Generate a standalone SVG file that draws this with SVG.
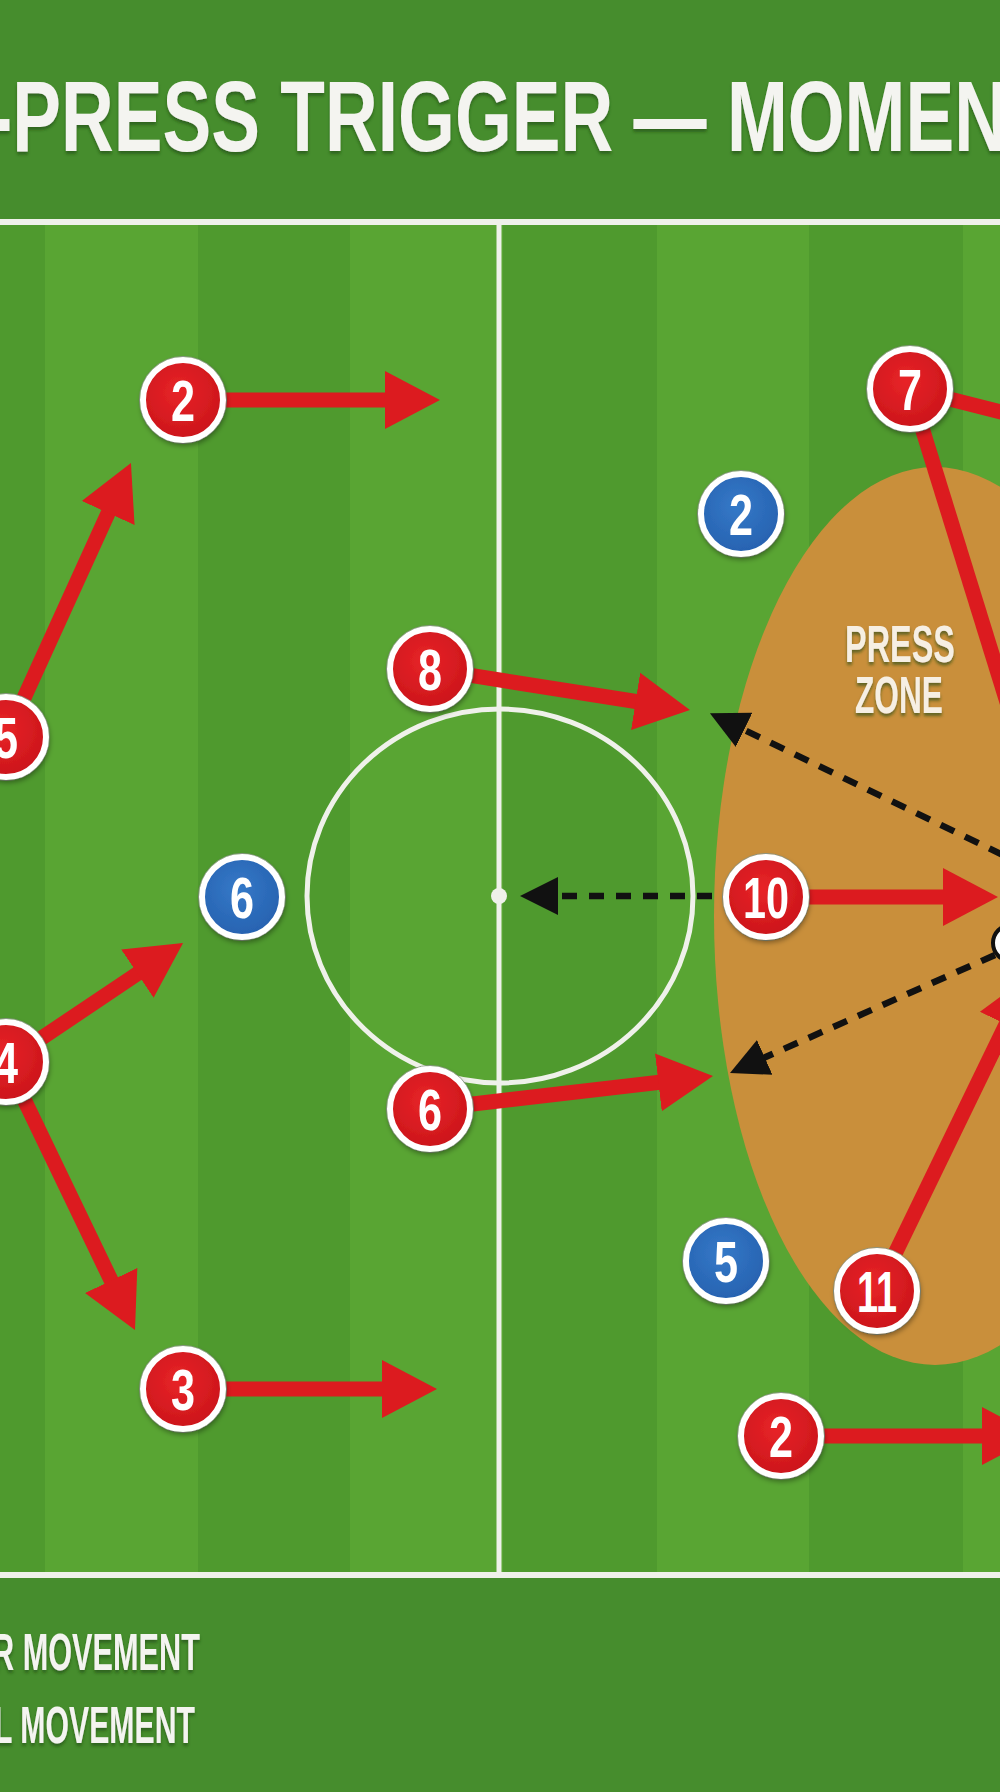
<svg xmlns="http://www.w3.org/2000/svg" width="1000" height="1792" viewBox="0 0 1000 1792">
<defs>
<style>
.lbl{font-family:"Liberation Sans",Arial,sans-serif;font-weight:bold;fill:#f4f4f0;filter:url(#tsh);}
.node .disc{stroke:#ffffff;stroke-width:6;filter:url(#sh);}
.node .edge{fill:none;stroke:#8f9a8a;stroke-width:1;}
.red .disc{fill:url(#gr);}
.blue .disc{fill:url(#gb);}
.node text{font-family:"Liberation Sans",Arial,sans-serif;font-weight:bold;font-size:58px;fill:#ffffff;text-anchor:middle;}
.ra{stroke:#dc1b1f;stroke-width:15;fill:none;marker-end:url(#ah);}
.rl{stroke:#dc1b1f;stroke-width:15;fill:none;}
.da{stroke:#111111;stroke-width:6.5;fill:none;stroke-dasharray:15 12;marker-end:url(#bh);}
.fl{stroke:#eff1ea;fill:none;}
</style>
<radialGradient id="gr" cx="0.45" cy="0.4" r="0.65">
<stop offset="0" stop-color="#e82428"/>
<stop offset="1" stop-color="#c9141a"/>
</radialGradient>
<radialGradient id="gb" cx="0.45" cy="0.4" r="0.65">
<stop offset="0" stop-color="#3479c8"/>
<stop offset="1" stop-color="#2660ae"/>
</radialGradient>
<filter id="sh" x="-40%" y="-40%" width="180%" height="180%">
<feDropShadow dx="1" dy="3" stdDeviation="2.5" flood-color="#000" flood-opacity="0.35"/>
</filter>
<filter id="tsh" x="-10%" y="-20%" width="120%" height="140%">
<feDropShadow dx="0" dy="3" stdDeviation="1.5" flood-color="#1d4a12" flood-opacity="0.6"/>
</filter>
<marker id="ah" markerUnits="userSpaceOnUse" markerWidth="56" markerHeight="60" viewBox="0 0 56 60" refX="10" refY="30" orient="auto">
<path d="M0,1 L55,30 L0,59 z" fill="#dc1b1f"/>
</marker>
<marker id="bh" markerUnits="userSpaceOnUse" markerWidth="40" markerHeight="40" viewBox="0 0 40 40" refX="8" refY="20" orient="auto">
<path d="M0,1 L38,20 L0,39 z" fill="#111111"/>
</marker>
</defs>

<!-- background -->
<rect x="0" y="0" width="1000" height="1792" fill="#468d2d"/>
<g id="stripes">
<rect x="0" y="222" width="45" height="1353" fill="#4f9a2e"/>
<rect x="45" y="222" width="153" height="1353" fill="#59a533"/>
<rect x="198" y="222" width="152" height="1353" fill="#4f9a2e"/>
<rect x="350" y="222" width="153" height="1353" fill="#59a533"/>
<rect x="503" y="222" width="154" height="1353" fill="#4f9a2e"/>
<rect x="657" y="222" width="152" height="1353" fill="#59a533"/>
<rect x="809" y="222" width="154" height="1353" fill="#4f9a2e"/>
<rect x="963" y="222" width="37" height="1353" fill="#59a533"/>
</g>
<g id="pitch-lines">
<line class="fl" x1="0" y1="222" x2="1000" y2="222" stroke-width="6"/>
<line class="fl" x1="0" y1="1575" x2="1000" y2="1575" stroke-width="6"/>
<line class="fl" x1="499" y1="222" x2="499" y2="1575" stroke-width="5"/>
<ellipse class="fl" cx="500" cy="896" rx="193" ry="187" stroke-width="5"/>
<circle cx="499" cy="896" r="8" fill="#eff1ea"/>
</g>

<g id="press-zone">
<ellipse cx="935" cy="916" rx="221" ry="449" fill="#c98f3b"/>
<text class="lbl" x="900" y="662" text-anchor="middle" font-size="52" textLength="110" lengthAdjust="spacingAndGlyphs" style="fill:#f6efe3">PRESS</text>
<text class="lbl" x="899" y="713" text-anchor="middle" font-size="52" textLength="88" lengthAdjust="spacingAndGlyphs" style="fill:#f6efe3">ZONE</text>
</g>

<text id="title" class="lbl" x="-12" y="151" font-size="100" textLength="1019" lengthAdjust="spacingAndGlyphs">-PRESS TRIGGER — MOMEN</text>

<g id="connectors">
<line class="ra" x1="225" y1="400" x2="395" y2="400"/>
<line class="ra" x1="24" y1="698" x2="112.3" y2="503.9"/>
<line class="ra" x1="472.5" y1="675.7" x2="645.5" y2="703"/>
<line class="ra" x1="41.7" y1="1038" x2="145.7" y2="968.1"/>
<line class="ra" x1="24.7" y1="1100.7" x2="115.5" y2="1289.5"/>
<line class="ra" x1="226" y1="1389" x2="392" y2="1389"/>
<line class="ra" x1="472.7" y1="1104" x2="668.3" y2="1081.2"/>
<line class="ra" x1="809" y1="897" x2="953" y2="897"/>
<line class="ra" x1="895.7" y1="1252.3" x2="1010.4" y2="1015.5"/>
<line class="ra" x1="824" y1="1436" x2="992" y2="1436"/>
<line class="rl" x1="910" y1="389" x2="1100" y2="437"/>
<line class="rl" x1="910" y1="389" x2="1028" y2="770"/>
<line class="da" x1="766" y1="896" x2="550" y2="896"/>
<line class="da" x1="1100" y1="902" x2="736.9" y2="726.3"/>
<line class="da" x1="995" y1="955" x2="757.4" y2="1060.7"/>
</g>

<g id="nodes">
<g id="red-2-top" class="node red" transform="translate(183,400)"><circle class="edge" r="43.5"/><circle class="disc" r="40"/><text y="21" textLength="24" lengthAdjust="spacingAndGlyphs">2</text></g>
<g id="red-5" class="node red" transform="translate(6,737)"><circle class="edge" r="43.5"/><circle class="disc" r="40"/><text y="21" textLength="24" lengthAdjust="spacingAndGlyphs">5</text></g>
<g id="red-8" class="node red" transform="translate(430,669)"><circle class="edge" r="43.5"/><circle class="disc" r="40"/><text y="21" textLength="24" lengthAdjust="spacingAndGlyphs">8</text></g>
<g id="red-4" class="node red" transform="translate(6,1062)"><circle class="edge" r="43.5"/><circle class="disc" r="40"/><text y="21" textLength="24" lengthAdjust="spacingAndGlyphs">4</text></g>
<g id="red-6" class="node red" transform="translate(430,1109)"><circle class="edge" r="43.5"/><circle class="disc" r="40"/><text y="21" textLength="24" lengthAdjust="spacingAndGlyphs">6</text></g>
<g id="red-3" class="node red" transform="translate(183,1389)"><circle class="edge" r="43.5"/><circle class="disc" r="40"/><text y="21" textLength="24" lengthAdjust="spacingAndGlyphs">3</text></g>
<g id="red-10" class="node red" transform="translate(766,897)"><circle class="edge" r="43.5"/><circle class="disc" r="40"/><text y="21" textLength="46" lengthAdjust="spacingAndGlyphs">10</text></g>
<g id="red-7" class="node red" transform="translate(910,389)"><circle class="edge" r="43.5"/><circle class="disc" r="40"/><text y="21" textLength="24" lengthAdjust="spacingAndGlyphs">7</text></g>
<g id="red-11" class="node red" transform="translate(877,1291)"><circle class="edge" r="43.5"/><circle class="disc" r="40"/><text y="21" textLength="40" lengthAdjust="spacingAndGlyphs">11</text></g>
<g id="red-2-bottom" class="node red" transform="translate(781,1436)"><circle class="edge" r="43.5"/><circle class="disc" r="40"/><text y="21" textLength="24" lengthAdjust="spacingAndGlyphs">2</text></g>
<g id="blue-2" class="node blue" transform="translate(741,514)"><circle class="edge" r="43.5"/><circle class="disc" r="40"/><text y="21" textLength="24" lengthAdjust="spacingAndGlyphs">2</text></g>
<g id="blue-6" class="node blue" transform="translate(242,897)"><circle class="edge" r="43.5"/><circle class="disc" r="40"/><text y="21" textLength="24" lengthAdjust="spacingAndGlyphs">6</text></g>
<g id="blue-5" class="node blue" transform="translate(726,1261)"><circle class="edge" r="43.5"/><circle class="disc" r="40"/><text y="21" textLength="24" lengthAdjust="spacingAndGlyphs">5</text></g>
<g id="ball"><circle cx="1011" cy="943" r="18" fill="#ffffff" stroke="#111111" stroke-width="4"/></g>
</g>

<g id="legend">
<text class="lbl" x="-8" y="1670" font-size="52" textLength="208" lengthAdjust="spacingAndGlyphs">R MOVEMENT</text>
<text class="lbl" x="-6" y="1743" font-size="52" textLength="201" lengthAdjust="spacingAndGlyphs">L MOVEMENT</text>
</g>
</svg>
